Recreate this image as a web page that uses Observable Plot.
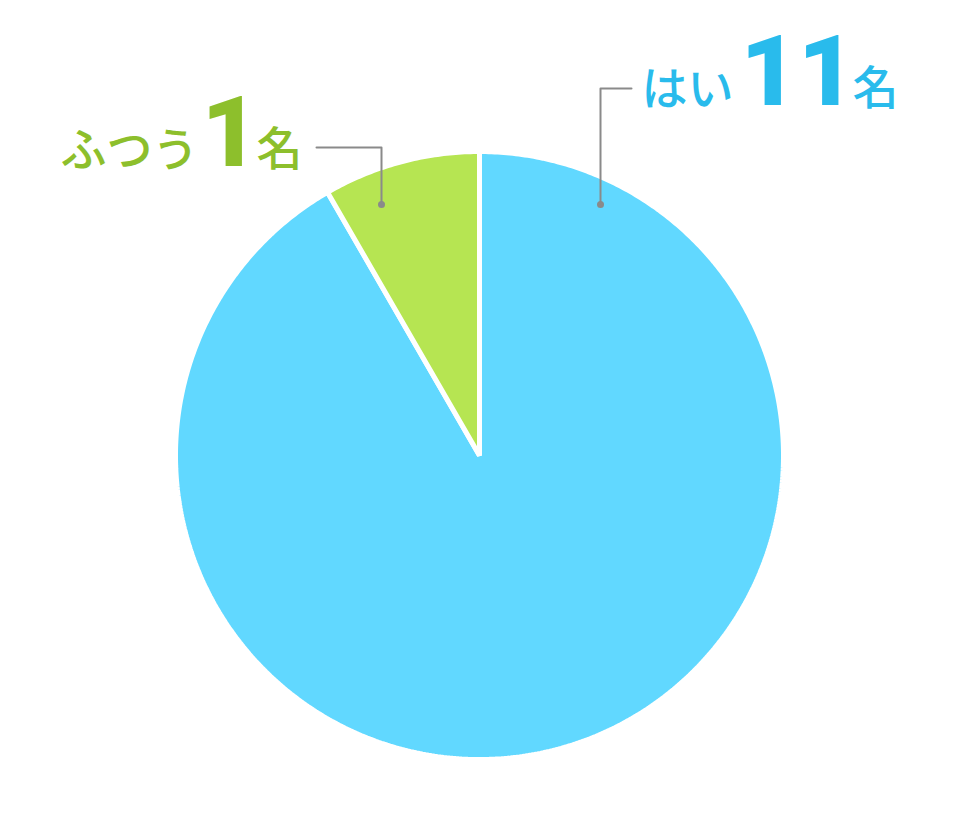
<!DOCTYPE html>
<html>
<head>
<meta charset="utf-8">
<script src="https://cdn.jsdelivr.net/npm/d3@7"></script>
<script src="https://cdn.jsdelivr.net/npm/@observablehq/plot@0.6"></script>
<style>
  html, body { margin: 0; padding: 0; background: #fff; }
  #chart { width: 958px; height: 822px; }
</style>
</head>
<body>
<div id="chart"></div>
<script>
// ---- data ----
const categories = ["はい", "ふつう"];
const counts = [11, 1];
const unitLabel = "名";
const sliceColors = ["#61d8ff", "#b6e552"];
const textColors = ["#29bbec", "#8dbf2c"];

// ---- layout ----
const W = 958, H = 822;
const cx = 479, cy = 455, R = 304;

const pie = d3.pie().sort(null).value(d => d.value);
const arcs = pie(categories.map((c, i) => ({ category: c, value: counts[i] })));

const slicePts = [];
arcs.forEach(a => {
  const n = Math.max(8, Math.ceil((a.endAngle - a.startAngle) / 0.01));
  slicePts.push({ category: a.data.category, x: cx, y: cy });
  for (let k = 0; k <= n; k++) {
    const t = a.startAngle + (a.endAngle - a.startAngle) * k / n;
    slicePts.push({ category: a.data.category, x: cx + R * Math.sin(t), y: cy - R * Math.cos(t) });
  }
});

// leader lines (layout)
const leaders = [
  { category: "はい", pts: [[600, 204], [600, 88], [631, 88]] },
  { category: "ふつう", pts: [[381, 204], [381, 147], [316, 147]] }
];
const leaderPts = leaders.flatMap(l => l.pts.map(p => ({ category: l.category, x: p[0], y: p[1] })));
const dotPts = leaders.map(l => ({ x: l.pts[0][0], y: l.pts[0][1] }));

// label pieces (layout)
const labelPos = {
  "はい":   { name: [641, 90], num: [740, 73], unit: [852, 89] },
  "ふつう": { name: [60, 151], num: [201, 134], unit: [256, 150] }
};
const names = categories.map((c, i) => ({ text: c, x: labelPos[c].name[0], y: labelPos[c].name[1], color: textColors[i] }));
const nums = categories.map((c, i) => ({ text: String(counts[i]), x: labelPos[c].num[0], y: labelPos[c].num[1], color: textColors[i] }));
const units = categories.map((c, i) => ({ text: unitLabel, x: labelPos[c].unit[0], y: labelPos[c].unit[1], color: textColors[i] }));

const jp = "'Noto Sans CJK JP', 'Noto Sans', sans-serif";

const chart = Plot.plot({
  width: W,
  height: H,
  margin: 0,
  x: { domain: [0, W], range: [0, W], axis: null },
  y: { domain: [0, H], range: [0, H], axis: null },
  color: { domain: categories, range: sliceColors },
  marks: [
    Plot.line(slicePts, { x: "x", y: "y", z: "category", fill: "category", stroke: "white", strokeWidth: 5, strokeLinejoin: "miter", curve: "linear-closed" }),
    Plot.line(leaderPts, { x: "x", y: "y", z: "category", stroke: "#8a8a8a", strokeWidth: 2, curve: "linear" }),
    Plot.dot(dotPts, { x: "x", y: "y", r: 3.5, fill: "#8a8a8a", stroke: null }),
    Plot.text(names, { x: "x", y: "y", text: "text", fill: d => d.color, textAnchor: "start", fontSize: 46, fontFamily: jp, fontWeight: 500 }),
    Plot.text(nums, { x: "x", y: "y", text: "text", fill: d => d.color, textAnchor: "start", fontSize: 99, fontFamily: "Roboto, 'Liberation Sans', sans-serif", fontWeight: 900 }),
    Plot.text(units, { x: "x", y: "y", text: "text", fill: d => d.color, textAnchor: "start", fontSize: 46, fontFamily: jp, fontWeight: 500 })
  ]
});
document.getElementById("chart").appendChild(chart);
</script>
</body>
</html>
